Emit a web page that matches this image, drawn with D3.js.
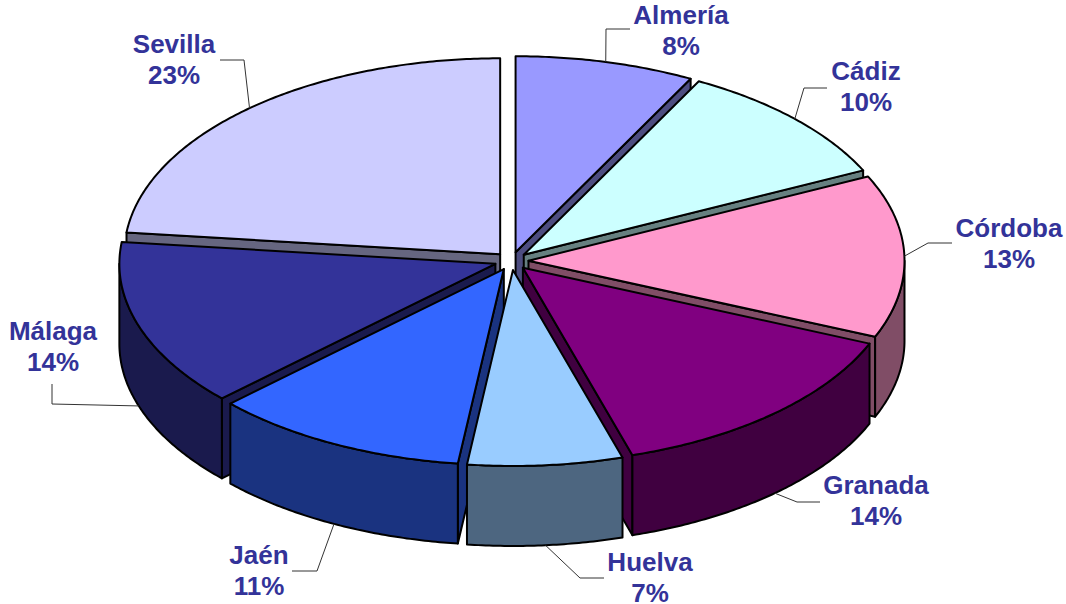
<!DOCTYPE html>
<html lang="es">
<head>
<meta charset="utf-8">
<title>Andalucía</title>
<script src="https://cdn.jsdelivr.net/npm/d3@7"></script>
<style>
html,body{margin:0;padding:0;background:#fff}
svg{display:block}
text{font-family:"Liberation Sans",Arial,sans-serif;font-weight:700;fill:#333399;font-size:26px;text-anchor:middle}
</style>
</head>
<body>
<svg id="chart" width="1066" height="604"></svg>
<script>
// Data
const provinces = ["Almería","Cádiz","Córdoba","Granada","Huelva","Jaén","Málaga","Sevilla"];
const shares = [7.7,10.2,13.4,13.95,6.65,11.0,13.8,23.2];
const topColors = ["#9999FF","#CCFFFF","#FF99CC","#800080","#99CCFF","#3366FF","#333399","#CCCCFF"];
// back-to-front painting order
const paintOrder = ["Almería","Sevilla","Cádiz","Málaga","Córdoba","Jaén","Granada","Huelva"];

// Layout
const W = 1066, H = 604;
const cx = 511.5, cy = 261, rx = 376, ry = 196, depth = 80;
const explodeX = 17, explodeY = 9;
const lineGap = 31;
// label centre / first baseline, leader elbow and leader end
const labelLayout = {
  "Almería":{x:681,y:23.6,elbow:[606,29],end:[630,29]},
  "Cádiz":{x:866,y:80,elbow:[804,88],end:[827,88]},
  "Córdoba":{x:1009,y:237,elbow:[928,243],end:[952,243]},
  "Granada":{x:876,y:494,elbow:[797,502],end:[820,502]},
  "Huelva":{x:650,y:571,elbow:[580,578],end:[604,578]},
  "Jaén":{x:259,y:564,elbow:[317,571],end:[292,571]},
  "Málaga":{x:53,y:340,elbow:[52,404],end:[52,384]},
  "Sevilla":{x:174,y:53,elbow:[244,60],end:[220,60]}
};

const pie = d3.pie().sort(null).value(d => d.share);
const slices = pie(provinces.map((name,i)=>({name,share:shares[i],color:topColors[i]})));
const bySlice = new Map(slices.map(s=>[s.data.name,s]));

const unitX = d3.scaleLinear().domain([-1,1]).range([-rx,rx]);
const unitY = d3.scaleLinear().domain([-1,1]).range([-ry,ry]);
const line = d3.line();

function apex(s){
  const m = (s.startAngle+s.endAngle)/2;
  return [cx+explodeX*Math.sin(m), cy-explodeY*Math.cos(m)];
}
function rim(s,a){
  const o = apex(s);
  return [o[0]+unitX(Math.sin(a)), o[1]+unitY(-Math.cos(a))];
}
function arcPoints(s,a0,a1){
  const n = Math.max(2,Math.ceil((a1-a0)/0.01));
  return d3.range(n+1).map(i=>rim(s,a0+(a1-a0)*i/n));
}
const down = p => [p[0],p[1]+depth];

const svg = d3.select("#chart").attr("viewBox",[0,0,W,H]);
const gPie = svg.append("g").attr("stroke","#000").attr("stroke-width",2).attr("stroke-linejoin","round");

paintOrder.forEach(name=>{
  const s = bySlice.get(name);
  const o = apex(s), pts = arcPoints(s,s.startAngle,s.endAngle);
  const side = d3.rgb(s.data.color);
  const sideColor = d3.rgb(side.r/2,side.g/2,side.b/2).formatHex();
  const g = gPie.append("g").attr("class","slice");
  const first = pts[0], last = pts[pts.length-1];
  // radial walls, only those that face the viewer
  if (Math.sin(s.startAngle) < 0)
    g.append("path").attr("fill",sideColor).attr("d",line([o,first,down(first),down(o)])+"Z");
  if (Math.sin(s.endAngle) > 0)
    g.append("path").attr("fill",sideColor).attr("d",line([o,last,down(last),down(o)])+"Z");
  // outer wall: front half of the rim only
  const a0 = Math.max(s.startAngle,Math.PI/2), a1 = Math.min(s.endAngle,Math.PI*1.5);
  if (a1 > a0) {
    const front = arcPoints(s,a0,a1);
    g.append("path").attr("fill",sideColor).attr("d",line(front.concat(front.map(down).reverse()))+"Z");
  }
  // top face
  g.append("path").attr("fill",s.data.color).attr("d",line([o].concat(pts))+"Z");
});

// leaders and labels
const gLab = svg.append("g");
slices.forEach(s=>{
  const l = labelLayout[s.data.name];
  const m = (s.startAngle+s.endAngle)/2;
  let p = rim(s,m);
  if (Math.cos(m)<0) p = down(p);
  gLab.append("path").attr("fill","none").attr("stroke","#333").attr("stroke-width",1)
    .attr("d",line([p,l.elbow,l.end]));
  const t = gLab.append("text").attr("x",l.x).attr("y",l.y);
  t.append("tspan").attr("x",l.x).text(s.data.name);
  t.append("tspan").attr("x",l.x).attr("dy",lineGap).text(Math.round(s.data.share)+"%");
});
</script>
</body>
</html>
